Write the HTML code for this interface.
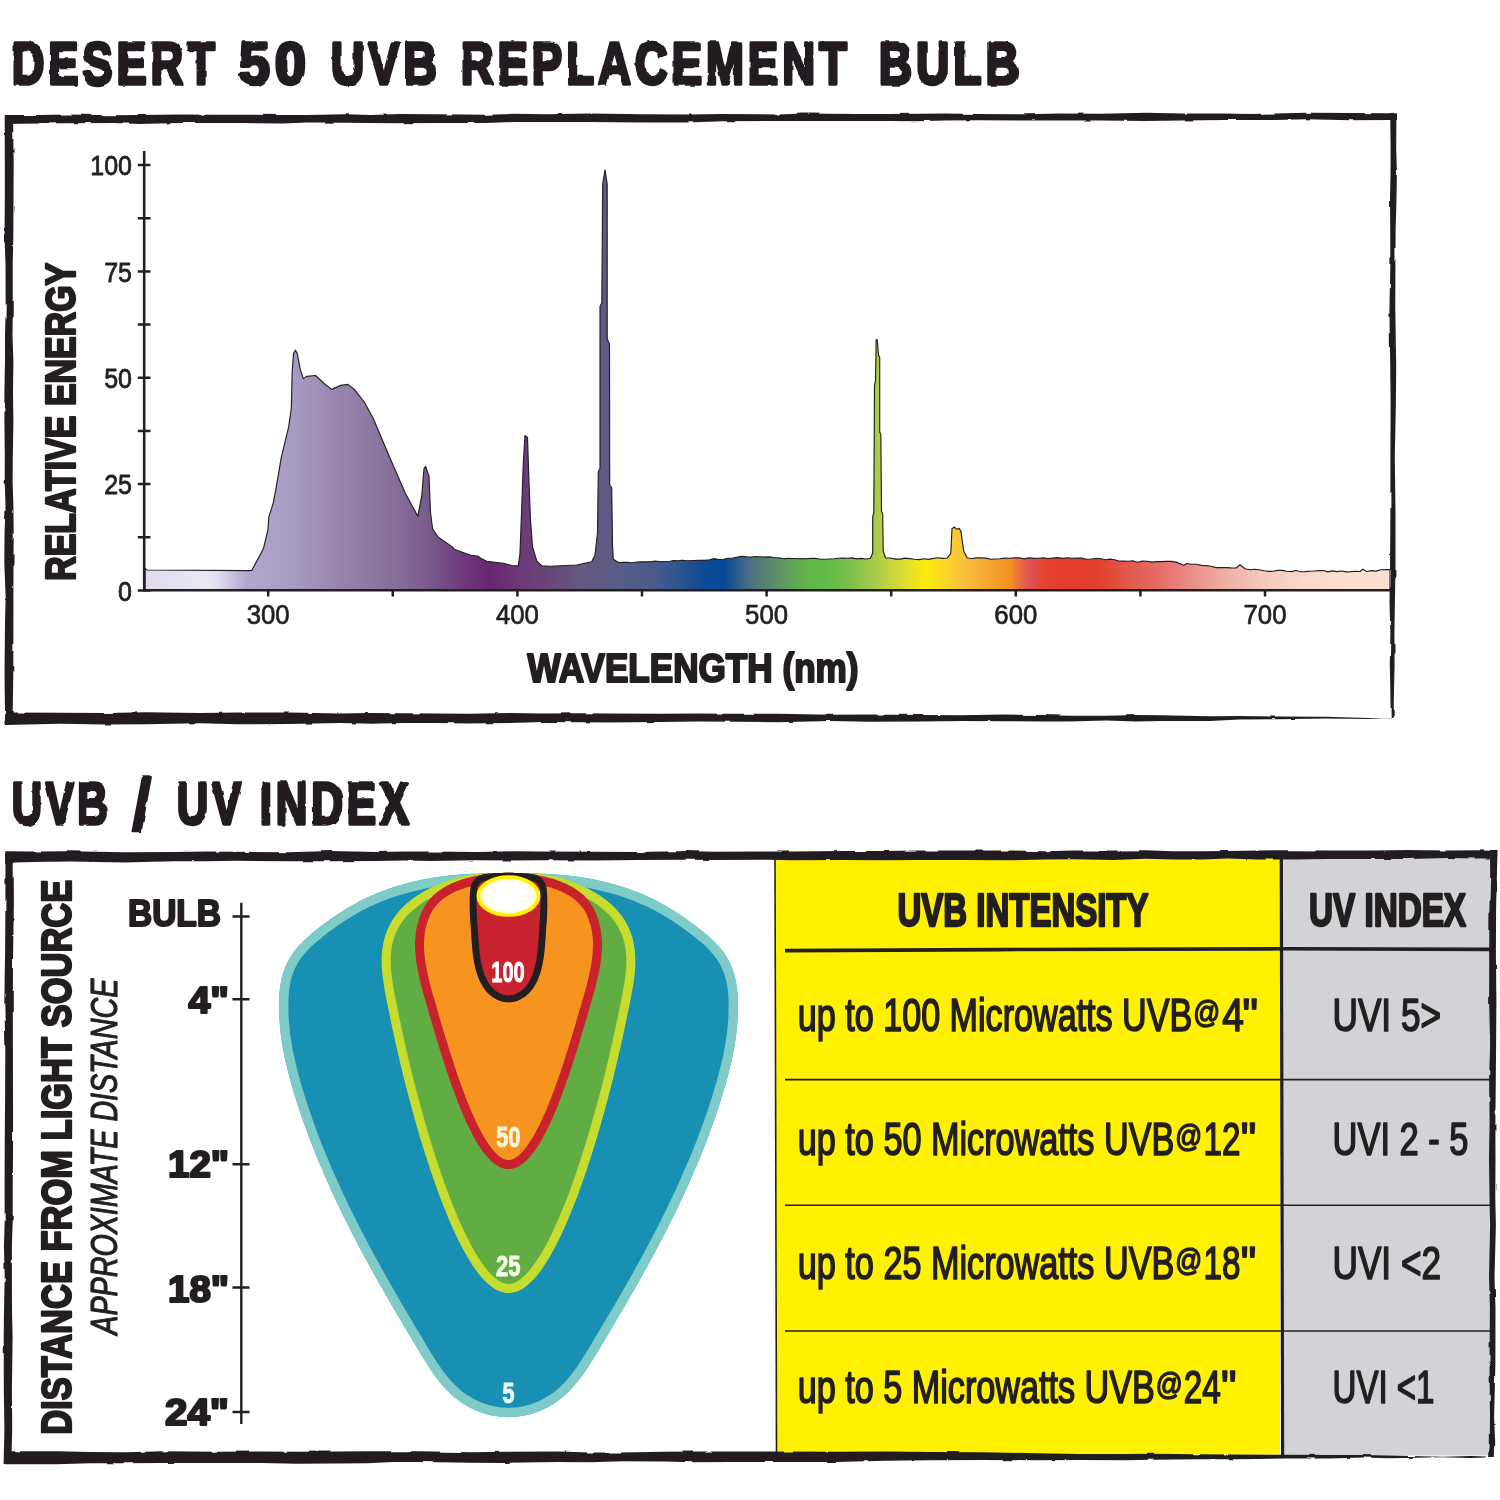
<!DOCTYPE html>
<html lang="en"><head><meta charset="utf-8"><title>Desert 50 UVB Replacement Bulb</title>
<style>
html,body{margin:0;padding:0;background:#fff;}
body{width:1500px;height:1500px;overflow:hidden;}
svg{display:block;font-family:"Liberation Sans",sans-serif;}
</style></head><body>
<svg width="1500" height="1500" viewBox="0 0 1500 1500">
<defs>
<linearGradient id="sg" gradientUnits="userSpaceOnUse" x1="144" y1="0" x2="1390" y2="0"><stop offset="0.0013" stop-color="#dedaec"/><stop offset="0.0498" stop-color="#ebe8f4"/><stop offset="0.0586" stop-color="#e2def0"/><stop offset="0.0819" stop-color="#b3a7d0"/><stop offset="0.1204" stop-color="#a79bc4"/><stop offset="0.1541" stop-color="#9886ae"/><stop offset="0.1990" stop-color="#86709a"/><stop offset="0.2327" stop-color="#77568a"/><stop offset="0.2552" stop-color="#6e3a7c"/><stop offset="0.2777" stop-color="#692673"/><stop offset="0.3002" stop-color="#6c3877"/><stop offset="0.3178" stop-color="#6b4278"/><stop offset="0.3515" stop-color="#635880"/><stop offset="0.3740" stop-color="#5c5b86"/><stop offset="0.4077" stop-color="#4d5b8a"/><stop offset="0.4302" stop-color="#2d5391"/><stop offset="0.4526" stop-color="#084a99"/><stop offset="0.4663" stop-color="#0a4b97"/><stop offset="0.4864" stop-color="#4d6e83"/><stop offset="0.5088" stop-color="#5f9266"/><stop offset="0.5313" stop-color="#62b24a"/><stop offset="0.5425" stop-color="#5fba47"/><stop offset="0.5650" stop-color="#78bf4a"/><stop offset="0.5875" stop-color="#a8cb4a"/><stop offset="0.6100" stop-color="#dddc33"/><stop offset="0.6276" stop-color="#fdec0b"/><stop offset="0.6388" stop-color="#fbdc20"/><stop offset="0.6585" stop-color="#f8c03e"/><stop offset="0.6782" stop-color="#f5a42f"/><stop offset="0.6954" stop-color="#f3911f"/><stop offset="0.7030" stop-color="#ea6b3f"/><stop offset="0.7103" stop-color="#df5258"/><stop offset="0.7223" stop-color="#e3432f"/><stop offset="0.7424" stop-color="#e43d2b"/><stop offset="0.7669" stop-color="#e3402e"/><stop offset="0.7913" stop-color="#e35a4e"/><stop offset="0.8178" stop-color="#e6706b"/><stop offset="0.8435" stop-color="#ea908a"/><stop offset="0.8700" stop-color="#efb1a6"/><stop offset="0.8973" stop-color="#f5c9bc"/><stop offset="0.9318" stop-color="#fad8cb"/><stop offset="0.9591" stop-color="#fcddd0"/><stop offset="1.0000" stop-color="#fddfd2"/></linearGradient>
<radialGradient id="bulb" cx="0.5" cy="0.5" r="0.5"><stop offset="0" stop-color="#fff"/><stop offset="0.74" stop-color="#fff"/><stop offset="0.9" stop-color="#fffcc4"/><stop offset="1" stop-color="#fff45a"/></radialGradient>
<filter id="rough" x="-2%" y="-10%" width="104%" height="120%"><feTurbulence type="fractalNoise" baseFrequency="0.075" numOctaves="2" seed="4" result="n"/><feDisplacementMap in="SourceGraphic" in2="n" scale="2.8" xChannelSelector="R" yChannelSelector="G"/></filter>
<filter id="rough2" x="-1%" y="-1%" width="102%" height="102%"><feTurbulence type="fractalNoise" baseFrequency="0.05" numOctaves="2" seed="9" result="n"/><feDisplacementMap in="SourceGraphic" in2="n" scale="2.6" xChannelSelector="R" yChannelSelector="G"/></filter>
</defs>
<rect width="1500" height="1500" fill="#fff"/>

<g id="head1" filter="url(#rough)"><text x="11.7" y="84.3" font-size="58.5" font-weight="bold" letter-spacing="5.0" textLength="207.1" lengthAdjust="spacingAndGlyphs" fill="#231f20" stroke="#231f20" stroke-width="3.4" stroke-linejoin="round">DESERT</text><text x="238.7" y="84.3" font-size="58.5" font-weight="bold" letter-spacing="5.0" textLength="72.1" lengthAdjust="spacingAndGlyphs" fill="#231f20" stroke="#231f20" stroke-width="3.4" stroke-linejoin="round">50</text><text x="330.7" y="84.3" font-size="58.5" font-weight="bold" letter-spacing="5.0" textLength="110.1" lengthAdjust="spacingAndGlyphs" fill="#231f20" stroke="#231f20" stroke-width="3.4" stroke-linejoin="round">UVB</text><text x="460.7" y="84.3" font-size="58.5" font-weight="bold" letter-spacing="5.0" textLength="390.1" lengthAdjust="spacingAndGlyphs" fill="#231f20" stroke="#231f20" stroke-width="3.4" stroke-linejoin="round">REPLACEMENT</text><text x="878.7" y="84.3" font-size="58.5" font-weight="bold" letter-spacing="5.0" textLength="144.1" lengthAdjust="spacingAndGlyphs" fill="#231f20" stroke="#231f20" stroke-width="3.4" stroke-linejoin="round">BULB</text></g>
<g id="head2" filter="url(#rough)"><text x="11.7" y="824.3" font-size="58.5" font-weight="bold" letter-spacing="5.0" textLength="99.6" lengthAdjust="spacingAndGlyphs" fill="#231f20" stroke="#231f20" stroke-width="3.4" stroke-linejoin="round">UVB</text><text x="131.5" y="830.0" font-size="74" font-weight="bold" fill="#231f20" stroke="#231f20" stroke-width="1.5" stroke-linejoin="round">/</text><text x="176.7" y="824.3" font-size="58.5" font-weight="bold" letter-spacing="5.0" textLength="68.1" lengthAdjust="spacingAndGlyphs" fill="#231f20" stroke="#231f20" stroke-width="3.4" stroke-linejoin="round">UV</text><text x="259.7" y="824.3" font-size="58.5" font-weight="bold" letter-spacing="5.0" textLength="153.1" lengthAdjust="spacingAndGlyphs" fill="#231f20" stroke="#231f20" stroke-width="3.4" stroke-linejoin="round">INDEX</text></g>
<g id="box1" fill="#231f20" filter="url(#rough2)">
<path d="M5.0 115.1 L39.4 114.9 L68.2 114.6 L113.0 115.3 L139.3 115.1 L180.5 114.4 L216.2 114.8 L242.0 114.7 L282.3 115.1 L307.5 114.9 L345.4 114.2 L371.6 115.1 L398.5 113.9 L436.1 114.3 L486.5 114.7 L514.5 113.8 L545.6 114.2 L589.7 113.5 L644.1 114.3 L686.5 114.4 L723.2 114.1 L778.5 114.4 L803.9 113.6 L855.4 114.1 L888.7 113.9 L917.3 113.8 L945.1 113.6 L978.9 114.1 L1029.1 114.2 L1058.8 113.4 L1101.4 113.7 L1145.9 112.7 L1181.8 113.6 L1223.3 113.5 L1249.3 113.9 L1275.3 113.6 L1305.8 112.8 L1351.6 112.9 L1389.3 113.2 L1397.0 112.3 L1397.0 120.0 L1389.3 119.9 L1351.6 120.2 L1305.8 119.2 L1275.3 120.1 L1249.3 120.1 L1223.3 120.1 L1181.8 120.5 L1145.9 120.9 L1101.4 120.5 L1058.8 120.4 L1029.1 120.6 L978.9 120.2 L945.1 120.6 L917.3 121.2 L888.7 121.1 L855.4 120.9 L803.9 121.0 L778.5 121.0 L723.2 121.2 L686.5 122.4 L644.1 122.5 L589.7 121.9 L545.6 122.1 L514.5 122.0 L486.5 123.0 L436.1 123.1 L398.5 123.3 L371.6 122.9 L345.4 122.8 L307.5 122.4 L282.3 123.6 L242.0 123.1 L216.2 123.0 L180.5 122.9 L139.3 123.9 L113.0 123.0 L68.2 123.3 L39.4 123.4 L5.0 123.9Z"/>
<path d="M4.7 115.0 L4.8 164.5 L4.8 201.1 L4.5 237.9 L5.5 265.2 L5.7 309.5 L5.0 335.5 L5.0 361.6 L4.4 392.3 L4.4 421.5 L4.8 456.4 L4.7 482.1 L5.5 506.1 L4.5 534.9 L4.3 562.1 L5.6 597.8 L5.0 622.6 L4.5 674.6 L5.1 718.2 L4.3 724.0 L13.0 724.0 L12.6 718.2 L13.3 674.6 L13.4 622.6 L13.4 597.8 L13.5 562.1 L13.7 534.9 L13.4 506.1 L12.6 482.1 L12.8 456.4 L13.4 421.5 L13.0 392.3 L13.4 361.6 L12.5 335.5 L12.8 309.5 L12.7 265.2 L13.3 237.9 L13.5 201.1 L13.7 164.5 L13.0 115.0Z"/>
<path d="M1390.2 113.0 L1390.6 148.4 L1390.5 173.3 L1390.0 198.2 L1390.2 231.1 L1390.4 263.4 L1389.4 309.6 L1390.2 364.2 L1390.6 402.5 L1390.4 456.5 L1390.4 512.1 L1390.0 566.7 L1389.5 602.3 L1390.4 633.4 L1389.8 664.7 L1390.4 695.0 L1390.7 718.0 L1393.6 718.0 L1393.9 695.0 L1394.6 664.7 L1394.4 633.4 L1394.9 602.3 L1395.5 566.7 L1395.5 512.1 L1394.8 456.5 L1395.9 402.5 L1396.2 364.2 L1395.3 309.6 L1395.4 263.4 L1395.6 231.1 L1396.5 198.2 L1396.9 173.3 L1396.2 148.4 L1396.4 113.0Z"/>
<path d="M5.0 712.5 L60.1 712.7 L104.9 713.0 L145.7 712.2 L199.6 712.9 L237.5 712.5 L289.4 712.6 L339.8 713.4 L370.6 713.0 L402.6 713.2 L436.0 713.5 L467.7 713.7 L510.4 713.1 L542.7 713.4 L580.2 713.3 L608.4 713.4 L661.5 713.7 L696.8 713.4 L735.5 713.7 L778.1 713.8 L831.1 714.7 L868.5 714.5 L921.9 715.0 L961.9 715.3 L1003.0 714.5 L1043.7 715.1 L1068.3 715.8 L1106.4 715.8 L1136.3 715.1 L1160.4 715.3 L1210.0 716.2 L1239.5 716.0 L1278.6 716.6 L1325.8 716.8 L1367.6 718.0 L1392.0 718.4 L1392.0 718.2 L1367.6 719.1 L1325.8 718.5 L1278.6 719.2 L1239.5 719.4 L1210.0 720.9 L1160.4 721.1 L1136.3 721.6 L1106.4 720.6 L1068.3 721.4 L1043.7 721.6 L1003.0 721.2 L961.9 720.9 L921.9 721.5 L868.5 721.8 L831.1 721.1 L778.1 722.2 L735.5 721.7 L696.8 721.6 L661.5 721.9 L608.4 722.4 L580.2 722.3 L542.7 722.1 L510.4 723.1 L467.7 723.5 L436.0 722.9 L402.6 722.9 L370.6 723.8 L339.8 722.9 L289.4 724.1 L237.5 724.2 L199.6 723.3 L145.7 724.2 L104.9 724.4 L60.1 723.8 L5.0 725.1Z"/>
</g>
<g id="chart">
<path d="M145 590 L145.0 568.5 147.0 570.0 251.7 570.6 263.4 548.7 267.9 529.8 268.8 517.2 273.3 502.8 276.0 488.4 281.4 456.9 288.6 427.2 291.3 409.2 292.2 371.4 293.6 353.4 295.4 350.2 297.2 353.4 300.3 369.6 303.4 378.6 306.6 376.4 315.6 375.5 324.6 384.0 331.8 389.4 340.8 385.4 348.0 384.4 355.2 390.3 364.2 402.0 373.2 418.2 382.2 439.8 393.0 465.0 405.6 493.8 417.8 516.3 421.8 495.6 424.0 468.6 425.7 466.4 428.1 474.0 429.0 475.8 430.4 511.8 432.6 528.9 438.0 537.0 452.4 546.9 454.2 549.2 470.0 555.0 478.5 556.4 481.2 558.6 486.7 561.3 503.3 563.3 511.7 565.5 518.3 565.8 520.0 553.3 522.0 500.0 523.3 463.3 525.0 435.5 527.5 437.5 528.7 473.3 530.3 516.7 532.5 546.7 536.7 560.8 541.7 565.8 550.0 566.2 576.7 565.0 591.7 561.7 595.0 555.0 597.5 533.3 598.3 471.7 600.0 468.3 600.0 306.6 601.8 303.0 602.7 184.2 605.0 169.8 607.2 184.0 607.2 339.0 609.5 344.0 609.7 485.0 611.7 487.5 612.5 545.0 613.3 559.2 618.3 562.5 622.9 562.3 627.5 562.3 632.1 562.8 636.7 562.0 641.2 561.8 645.8 561.8 650.3 561.8 654.9 561.1 659.4 561.5 664.0 561.5 668.5 561.7 673.1 560.5 677.6 560.7 682.2 560.3 686.7 560.8 700.0 560.3 704.7 560.4 709.3 559.9 714.0 558.6 718.7 559.6 723.4 559.2 728.0 558.4 732.7 558.0 737.4 557.0 742.0 556.4 746.7 556.8 751.3 557.0 756.0 556.5 760.6 556.8 765.2 557.1 769.9 556.9 774.5 557.8 779.1 557.9 783.7 558.7 788.4 558.4 793.0 558.5 797.5 558.7 802.1 558.5 806.6 558.7 811.2 558.4 815.7 558.2 820.3 559.2 824.8 559.2 829.4 559.0 833.9 558.8 838.5 558.2 843.0 558.1 847.6 558.2 852.1 557.9 856.7 558.9 861.2 558.4 865.8 559.0 870.3 558.5 872.7 553.3 872.7 516.0 873.8 513.7 874.5 385.3 875.5 380.7 876.2 339.8 877.3 339.8 878.5 355.0 879.7 357.3 879.7 432.0 880.8 434.3 881.5 511.3 882.7 513.7 883.2 551.0 885.5 558.0 890.4 558.0 895.2 559.1 900.1 559.1 905.0 558.1 909.8 558.6 914.7 559.2 919.4 559.6 924.0 558.8 928.7 559.4 933.3 558.4 938.0 557.7 942.6 558.4 947.3 558.0 950.8 553.3 952.0 528.8 954.3 527.0 956.7 529.3 959.0 528.4 960.9 531.2 963.7 551.0 967.2 558.0 971.9 558.5 976.6 557.9 981.3 557.7 985.9 558.1 990.6 559.2 995.3 559.0 1000.0 558.7 1004.8 558.1 1009.6 558.2 1014.5 557.9 1019.3 557.8 1024.1 558.9 1028.9 557.9 1033.7 558.4 1038.5 558.2 1043.4 557.7 1048.2 558.5 1053.0 558.1 1057.8 557.6 1062.6 558.4 1067.4 557.7 1072.2 558.2 1077.0 558.0 1081.8 558.1 1086.6 559.2 1091.4 559.0 1096.2 558.3 1101.0 558.7 1105.5 559.7 1110.0 559.1 1114.5 559.8 1119.0 561.0 1123.5 561.1 1128.0 561.3 1132.8 560.8 1137.6 562.2 1142.4 561.1 1147.2 561.3 1152.0 562.1 1156.8 561.5 1161.6 561.6 1166.4 561.3 1171.2 561.4 1176.0 562.1 1184.0 565.3 1186.7 563.5 1191.6 564.2 1196.5 564.3 1201.4 565.4 1206.3 565.6 1211.2 566.3 1216.1 567.6 1221.0 567.5 1226.0 567.6 1231.0 567.9 1236.0 568.0 1240.0 564.8 1245.0 568.8 1249.8 569.8 1254.5 569.3 1259.2 569.7 1264.0 570.7 1268.6 571.4 1273.1 571.3 1277.7 570.4 1282.3 570.4 1286.9 571.2 1291.4 571.6 1296.0 570.5 1300.6 571.7 1305.1 571.6 1309.7 571.2 1314.3 571.0 1318.9 570.6 1323.4 570.5 1328.0 571.9 1332.6 570.9 1337.1 571.6 1341.7 571.0 1346.3 571.9 1350.9 571.6 1355.4 571.2 1360.0 571.5 1362.7 569.3 1366.7 571.5 1371.4 570.6 1376.0 571.1 1380.7 569.7 1385.3 569.6 1390.0 569.6 L1390 590Z" fill="url(#sg)" stroke="#231f20" stroke-width="1.15" stroke-linejoin="round"/>
<path d="M144.2 151V591.4M143 590.2H1390" stroke="#231f20" stroke-width="2.6" fill="none"/>
<path d="M137.8 165.0H150.5M137.8 218.2H150.5M137.8 271.4H150.5M137.8 324.5H150.5M137.8 377.7H150.5M137.8 430.9H150.5M137.8 484.1H150.5M137.8 537.3H150.5M137.8 590.4H150.5M268.2 590V596.5M392.8 590V596.5M517.4 590V596.5M642.0 590V596.5M766.6 590V596.5M891.2 590V596.5M1015.8 590V596.5M1140.4 590V596.5M1265.0 590V596.5" stroke="#231f20" stroke-width="2.5" fill="none"/>
<text x="132.0" y="175.1" font-size="28.3" font-weight="normal" text-anchor="end" fill="#231f20" textLength="41.7" lengthAdjust="spacingAndGlyphs" stroke="#231f20" stroke-width="0.8" stroke-linejoin="round">100</text>
<text x="132.0" y="281.5" font-size="28.3" font-weight="normal" text-anchor="end" fill="#231f20" textLength="27.8" lengthAdjust="spacingAndGlyphs" stroke="#231f20" stroke-width="0.8" stroke-linejoin="round">75</text>
<text x="132.0" y="387.8" font-size="28.3" font-weight="normal" text-anchor="end" fill="#231f20" textLength="27.8" lengthAdjust="spacingAndGlyphs" stroke="#231f20" stroke-width="0.8" stroke-linejoin="round">50</text>
<text x="132.0" y="494.2" font-size="28.3" font-weight="normal" text-anchor="end" fill="#231f20" textLength="27.8" lengthAdjust="spacingAndGlyphs" stroke="#231f20" stroke-width="0.8" stroke-linejoin="round">25</text>
<text x="132.0" y="600.5" font-size="28.3" font-weight="normal" text-anchor="end" fill="#231f20" textLength="13.9" lengthAdjust="spacingAndGlyphs" stroke="#231f20" stroke-width="0.8" stroke-linejoin="round">0</text>
<text x="268.2" y="623.6" font-size="28.0" font-weight="normal" text-anchor="middle" fill="#231f20" textLength="43.0" lengthAdjust="spacingAndGlyphs" stroke="#231f20" stroke-width="0.7" stroke-linejoin="round">300</text>
<text x="517.4" y="623.6" font-size="28.0" font-weight="normal" text-anchor="middle" fill="#231f20" textLength="43.0" lengthAdjust="spacingAndGlyphs" stroke="#231f20" stroke-width="0.7" stroke-linejoin="round">400</text>
<text x="766.6" y="623.6" font-size="28.0" font-weight="normal" text-anchor="middle" fill="#231f20" textLength="43.0" lengthAdjust="spacingAndGlyphs" stroke="#231f20" stroke-width="0.7" stroke-linejoin="round">500</text>
<text x="1015.8" y="623.6" font-size="28.0" font-weight="normal" text-anchor="middle" fill="#231f20" textLength="43.0" lengthAdjust="spacingAndGlyphs" stroke="#231f20" stroke-width="0.7" stroke-linejoin="round">600</text>
<text x="1265.0" y="623.6" font-size="28.0" font-weight="normal" text-anchor="middle" fill="#231f20" textLength="43.0" lengthAdjust="spacingAndGlyphs" stroke="#231f20" stroke-width="0.7" stroke-linejoin="round">700</text>
<text x="693.0" y="682.0" font-size="40.0" font-weight="bold" text-anchor="middle" fill="#231f20" textLength="331.0" lengthAdjust="spacingAndGlyphs" stroke="#231f20" stroke-width="2.2" stroke-linejoin="round">WAVELENGTH (nm)</text>
<g transform="translate(74.5 421.8) rotate(-90)"><text x="0.0" y="0.0" font-size="42.5" font-weight="bold" text-anchor="middle" fill="#231f20" textLength="318.0" lengthAdjust="spacingAndGlyphs" stroke="#231f20" stroke-width="2.3" stroke-linejoin="round">RELATIVE ENERGY</text></g>
</g>
<g id="table">
<rect x="776" y="858" width="504" height="596.5" fill="#fff100"/>
<rect x="1281" y="855" width="210" height="600.5" fill="#d1d3d6"/>
<path d="M775 859L776.5 1453" stroke="#231f20" stroke-width="1.6" fill="none"/>
<path d="M1281.3 856L1282.6 1456" stroke="#231f20" stroke-width="3.2" fill="none"/>
<path d="M785 950.6L1000 949.6L1281 948.8L1490 949.4" stroke="#231f20" stroke-width="3.6" fill="none"/>
<path d="M785 1079.6H1490M785 1205.3H1490M785 1331H1490" stroke="#231f20" stroke-width="1.6" fill="none"/>
<text x="1023.0" y="925.5" font-size="45.5" font-weight="bold" text-anchor="middle" fill="#231f20" textLength="251.0" lengthAdjust="spacingAndGlyphs" stroke="#231f20" stroke-width="2.4" stroke-linejoin="round">UVB INTENSITY</text>
<text x="1387.5" y="925.5" font-size="45.5" font-weight="bold" text-anchor="middle" fill="#231f20" textLength="157.0" lengthAdjust="spacingAndGlyphs" stroke="#231f20" stroke-width="2.4" stroke-linejoin="round">UV INDEX</text>
<text x="797.8" y="1030.5" font-size="46.0" font-weight="normal" text-anchor="start" fill="#231f20" textLength="394.5" lengthAdjust="spacingAndGlyphs" stroke="#231f20" stroke-width="1.7" stroke-linejoin="round">up to 100 Microwatts UVB</text>
<text x="1193.3" y="1022.5" font-size="30.5" font-weight="normal" text-anchor="start" fill="#231f20" textLength="26.9" lengthAdjust="spacingAndGlyphs" stroke="#231f20" stroke-width="1.5" stroke-linejoin="round">@</text>
<text x="1222.2" y="1030.5" font-size="46.0" font-weight="normal" text-anchor="start" fill="#231f20" textLength="21.6" lengthAdjust="spacingAndGlyphs" stroke="#231f20" stroke-width="1.7" stroke-linejoin="round">4</text>
<text x="1258.1" y="1030.5" font-size="46.0" font-weight="normal" text-anchor="end" fill="#231f20" textLength="15.5" lengthAdjust="spacingAndGlyphs" stroke="#231f20" stroke-width="1.7" stroke-linejoin="round">"</text>
<text x="1332.5" y="1030.5" font-size="46.0" font-weight="normal" text-anchor="start" fill="#231f20" textLength="108.5" lengthAdjust="spacingAndGlyphs" stroke="#231f20" stroke-width="1.7" stroke-linejoin="round">UVI 5&gt;</text>
<text x="797.8" y="1154.5" font-size="46.0" font-weight="normal" text-anchor="start" fill="#231f20" textLength="376.5" lengthAdjust="spacingAndGlyphs" stroke="#231f20" stroke-width="1.7" stroke-linejoin="round">up to 50 Microwatts UVB</text>
<text x="1175.3" y="1146.5" font-size="30.5" font-weight="normal" text-anchor="start" fill="#231f20" textLength="26.9" lengthAdjust="spacingAndGlyphs" stroke="#231f20" stroke-width="1.5" stroke-linejoin="round">@</text>
<text x="1203.6" y="1154.5" font-size="46.0" font-weight="normal" text-anchor="start" fill="#231f20" textLength="37.0" lengthAdjust="spacingAndGlyphs" stroke="#231f20" stroke-width="1.7" stroke-linejoin="round">12</text>
<text x="1256.3" y="1154.5" font-size="46.0" font-weight="normal" text-anchor="end" fill="#231f20" textLength="15.5" lengthAdjust="spacingAndGlyphs" stroke="#231f20" stroke-width="1.7" stroke-linejoin="round">"</text>
<text x="1332.5" y="1154.5" font-size="46.0" font-weight="normal" text-anchor="start" fill="#231f20" textLength="136.0" lengthAdjust="spacingAndGlyphs" stroke="#231f20" stroke-width="1.7" stroke-linejoin="round">UVI 2 - 5</text>
<text x="797.8" y="1278.7" font-size="46.0" font-weight="normal" text-anchor="start" fill="#231f20" textLength="376.5" lengthAdjust="spacingAndGlyphs" stroke="#231f20" stroke-width="1.7" stroke-linejoin="round">up to 25 Microwatts UVB</text>
<text x="1175.3" y="1270.7" font-size="30.5" font-weight="normal" text-anchor="start" fill="#231f20" textLength="26.9" lengthAdjust="spacingAndGlyphs" stroke="#231f20" stroke-width="1.5" stroke-linejoin="round">@</text>
<text x="1203.6" y="1278.7" font-size="46.0" font-weight="normal" text-anchor="start" fill="#231f20" textLength="37.0" lengthAdjust="spacingAndGlyphs" stroke="#231f20" stroke-width="1.7" stroke-linejoin="round">18</text>
<text x="1256.3" y="1278.7" font-size="46.0" font-weight="normal" text-anchor="end" fill="#231f20" textLength="15.5" lengthAdjust="spacingAndGlyphs" stroke="#231f20" stroke-width="1.7" stroke-linejoin="round">"</text>
<text x="1332.5" y="1278.7" font-size="46.0" font-weight="normal" text-anchor="start" fill="#231f20" textLength="108.5" lengthAdjust="spacingAndGlyphs" stroke="#231f20" stroke-width="1.7" stroke-linejoin="round">UVI &lt;2</text>
<text x="797.8" y="1403.3" font-size="46.0" font-weight="normal" text-anchor="start" fill="#231f20" textLength="357.0" lengthAdjust="spacingAndGlyphs" stroke="#231f20" stroke-width="1.7" stroke-linejoin="round">up to 5 Microwatts UVB</text>
<text x="1155.8" y="1395.3" font-size="30.5" font-weight="normal" text-anchor="start" fill="#231f20" textLength="26.9" lengthAdjust="spacingAndGlyphs" stroke="#231f20" stroke-width="1.5" stroke-linejoin="round">@</text>
<text x="1183.7" y="1403.3" font-size="46.0" font-weight="normal" text-anchor="start" fill="#231f20" textLength="37.1" lengthAdjust="spacingAndGlyphs" stroke="#231f20" stroke-width="1.7" stroke-linejoin="round">24</text>
<text x="1236.6" y="1403.3" font-size="46.0" font-weight="normal" text-anchor="end" fill="#231f20" textLength="15.5" lengthAdjust="spacingAndGlyphs" stroke="#231f20" stroke-width="1.7" stroke-linejoin="round">"</text>
<text x="1332.5" y="1403.3" font-size="46.0" font-weight="normal" text-anchor="start" fill="#231f20" textLength="102.0" lengthAdjust="spacingAndGlyphs" stroke="#231f20" stroke-width="1.7" stroke-linejoin="round">UVI &lt;1</text>
</g>
<g id="cone">
<clipPath id="cb"><path d="M508.5 872.8 L498.1 872.9 L487.8 873.1 L477.9 873.4 L468.3 873.9 L459.2 874.5 L450.6 875.3 L442.5 876.2 L434.9 877.2 L427.9 878.4 L421.2 879.7 L414.8 881.2 L408.5 882.8 L402.2 884.5 L396.1 886.3 L390.0 888.3 L384.1 890.4 L378.3 892.6 L372.6 895.0 L367.0 897.5 L361.6 900.1 L356.4 902.9 L351.2 905.8 L346.2 908.8 L341.2 911.9 L336.3 915.1 L331.4 918.5 L326.5 921.9 L321.7 925.5 L316.9 929.2 L312.2 933.0 L307.7 936.9 L303.4 940.9 L299.4 945.1 L295.7 949.3 L292.5 953.6 L289.7 958.0 L287.2 962.6 L285.1 967.2 L283.4 971.9 L282.0 976.7 L280.9 981.5 L280.1 986.5 L279.5 991.5 L279.1 996.7 L278.9 1001.9 L278.9 1007.1 L279.0 1012.5 L279.2 1017.9 L279.6 1023.3 L280.1 1028.9 L280.7 1034.5 L281.5 1040.1 L282.4 1045.8 L283.4 1051.6 L284.6 1057.4 L285.9 1063.2 L287.3 1069.1 L288.8 1075.0 L290.4 1081.0 L292.1 1087.0 L293.9 1093.0 L295.7 1099.1 L297.7 1105.2 L299.7 1111.3 L301.8 1117.4 L303.9 1123.5 L306.1 1129.6 L308.4 1135.8 L310.7 1141.9 L313.1 1148.1 L315.6 1154.2 L318.1 1160.4 L320.7 1166.5 L323.3 1172.6 L326.0 1178.7 L328.7 1184.8 L331.4 1190.9 L334.2 1197.0 L337.1 1203.0 L339.9 1209.0 L342.8 1215.0 L345.8 1220.9 L348.7 1226.8 L351.7 1232.6 L354.7 1238.4 L357.7 1244.2 L360.7 1249.9 L363.7 1255.5 L366.7 1261.1 L369.8 1266.7 L372.8 1272.1 L375.8 1277.5 L378.8 1282.9 L381.8 1288.1 L384.8 1293.3 L387.7 1298.5 L390.6 1303.5 L393.5 1308.5 L396.4 1313.3 L399.2 1318.1 L402.0 1322.8 L404.7 1327.4 L407.4 1332.0 L410.1 1336.4 L412.7 1340.7 L415.2 1344.9 L417.6 1349.1 L420.0 1353.1 L422.4 1357.0 L424.8 1360.8 L427.1 1364.5 L429.4 1368.1 L431.8 1371.5 L434.1 1374.9 L436.5 1378.1 L439.0 1381.2 L441.4 1384.2 L443.9 1387.1 L446.5 1389.9 L449.1 1392.5 L451.8 1395.0 L454.5 1397.4 L457.3 1399.6 L460.2 1401.7 L463.1 1403.7 L466.1 1405.5 L469.1 1407.2 L472.2 1408.8 L475.3 1410.3 L478.5 1411.6 L481.7 1412.8 L485.0 1413.8 L488.3 1414.7 L491.6 1415.5 L494.9 1416.1 L498.3 1416.6 L501.7 1416.9 L505.1 1417.1 L508.5 1417.2 L511.9 1417.1 L515.3 1416.9 L518.7 1416.6 L522.1 1416.1 L525.4 1415.5 L528.7 1414.7 L532.0 1413.8 L535.3 1412.8 L538.5 1411.6 L541.7 1410.3 L544.8 1408.8 L547.9 1407.2 L550.9 1405.5 L553.9 1403.7 L556.8 1401.7 L559.7 1399.6 L562.5 1397.4 L565.2 1395.0 L567.9 1392.5 L570.5 1389.9 L573.1 1387.1 L575.6 1384.2 L578.0 1381.2 L580.5 1378.1 L582.9 1374.9 L585.2 1371.5 L587.6 1368.1 L589.9 1364.5 L592.2 1360.8 L594.6 1357.0 L597.0 1353.1 L599.4 1349.1 L601.8 1344.9 L604.3 1340.7 L606.9 1336.4 L609.6 1332.0 L612.3 1327.4 L615.0 1322.8 L617.8 1318.1 L620.6 1313.3 L623.5 1308.5 L626.4 1303.5 L629.3 1298.5 L632.2 1293.3 L635.2 1288.1 L638.2 1282.9 L641.2 1277.5 L644.2 1272.1 L647.2 1266.7 L650.3 1261.1 L653.3 1255.5 L656.3 1249.9 L659.3 1244.2 L662.3 1238.4 L665.3 1232.6 L668.3 1226.8 L671.2 1220.9 L674.2 1215.0 L677.1 1209.0 L679.9 1203.0 L682.8 1197.0 L685.6 1190.9 L688.3 1184.8 L691.0 1178.7 L693.7 1172.6 L696.3 1166.5 L698.9 1160.4 L701.4 1154.2 L703.9 1148.1 L706.3 1141.9 L708.6 1135.8 L710.9 1129.6 L713.1 1123.5 L715.2 1117.4 L717.3 1111.3 L719.3 1105.2 L721.3 1099.1 L723.1 1093.0 L724.9 1087.0 L726.6 1081.0 L728.2 1075.0 L729.7 1069.1 L731.1 1063.2 L732.4 1057.4 L733.6 1051.6 L734.6 1045.8 L735.5 1040.1 L736.3 1034.5 L736.9 1028.9 L737.4 1023.3 L737.8 1017.9 L738.0 1012.5 L738.1 1007.1 L738.1 1001.9 L737.9 996.7 L737.5 991.5 L736.9 986.5 L736.1 981.5 L735.0 976.7 L733.6 971.9 L731.9 967.2 L729.8 962.6 L727.3 958.0 L724.5 953.6 L721.3 949.3 L717.6 945.1 L713.6 940.9 L709.3 936.9 L704.8 933.0 L700.1 929.2 L695.3 925.5 L690.5 921.9 L685.6 918.5 L680.7 915.1 L675.8 911.9 L670.8 908.8 L665.8 905.8 L660.6 902.9 L655.4 900.1 L650.0 897.5 L644.4 895.0 L638.7 892.6 L632.9 890.4 L627.0 888.3 L620.9 886.3 L614.8 884.5 L608.5 882.8 L602.2 881.2 L595.8 879.7 L589.1 878.4 L582.1 877.2 L574.5 876.2 L566.4 875.3 L557.8 874.5 L548.7 873.9 L539.1 873.4 L529.2 873.1 L518.9 872.9Z"/></clipPath><path d="M508.5 872.8 L498.1 872.9 L487.8 873.1 L477.9 873.4 L468.3 873.9 L459.2 874.5 L450.6 875.3 L442.5 876.2 L434.9 877.2 L427.9 878.4 L421.2 879.7 L414.8 881.2 L408.5 882.8 L402.2 884.5 L396.1 886.3 L390.0 888.3 L384.1 890.4 L378.3 892.6 L372.6 895.0 L367.0 897.5 L361.6 900.1 L356.4 902.9 L351.2 905.8 L346.2 908.8 L341.2 911.9 L336.3 915.1 L331.4 918.5 L326.5 921.9 L321.7 925.5 L316.9 929.2 L312.2 933.0 L307.7 936.9 L303.4 940.9 L299.4 945.1 L295.7 949.3 L292.5 953.6 L289.7 958.0 L287.2 962.6 L285.1 967.2 L283.4 971.9 L282.0 976.7 L280.9 981.5 L280.1 986.5 L279.5 991.5 L279.1 996.7 L278.9 1001.9 L278.9 1007.1 L279.0 1012.5 L279.2 1017.9 L279.6 1023.3 L280.1 1028.9 L280.7 1034.5 L281.5 1040.1 L282.4 1045.8 L283.4 1051.6 L284.6 1057.4 L285.9 1063.2 L287.3 1069.1 L288.8 1075.0 L290.4 1081.0 L292.1 1087.0 L293.9 1093.0 L295.7 1099.1 L297.7 1105.2 L299.7 1111.3 L301.8 1117.4 L303.9 1123.5 L306.1 1129.6 L308.4 1135.8 L310.7 1141.9 L313.1 1148.1 L315.6 1154.2 L318.1 1160.4 L320.7 1166.5 L323.3 1172.6 L326.0 1178.7 L328.7 1184.8 L331.4 1190.9 L334.2 1197.0 L337.1 1203.0 L339.9 1209.0 L342.8 1215.0 L345.8 1220.9 L348.7 1226.8 L351.7 1232.6 L354.7 1238.4 L357.7 1244.2 L360.7 1249.9 L363.7 1255.5 L366.7 1261.1 L369.8 1266.7 L372.8 1272.1 L375.8 1277.5 L378.8 1282.9 L381.8 1288.1 L384.8 1293.3 L387.7 1298.5 L390.6 1303.5 L393.5 1308.5 L396.4 1313.3 L399.2 1318.1 L402.0 1322.8 L404.7 1327.4 L407.4 1332.0 L410.1 1336.4 L412.7 1340.7 L415.2 1344.9 L417.6 1349.1 L420.0 1353.1 L422.4 1357.0 L424.8 1360.8 L427.1 1364.5 L429.4 1368.1 L431.8 1371.5 L434.1 1374.9 L436.5 1378.1 L439.0 1381.2 L441.4 1384.2 L443.9 1387.1 L446.5 1389.9 L449.1 1392.5 L451.8 1395.0 L454.5 1397.4 L457.3 1399.6 L460.2 1401.7 L463.1 1403.7 L466.1 1405.5 L469.1 1407.2 L472.2 1408.8 L475.3 1410.3 L478.5 1411.6 L481.7 1412.8 L485.0 1413.8 L488.3 1414.7 L491.6 1415.5 L494.9 1416.1 L498.3 1416.6 L501.7 1416.9 L505.1 1417.1 L508.5 1417.2 L511.9 1417.1 L515.3 1416.9 L518.7 1416.6 L522.1 1416.1 L525.4 1415.5 L528.7 1414.7 L532.0 1413.8 L535.3 1412.8 L538.5 1411.6 L541.7 1410.3 L544.8 1408.8 L547.9 1407.2 L550.9 1405.5 L553.9 1403.7 L556.8 1401.7 L559.7 1399.6 L562.5 1397.4 L565.2 1395.0 L567.9 1392.5 L570.5 1389.9 L573.1 1387.1 L575.6 1384.2 L578.0 1381.2 L580.5 1378.1 L582.9 1374.9 L585.2 1371.5 L587.6 1368.1 L589.9 1364.5 L592.2 1360.8 L594.6 1357.0 L597.0 1353.1 L599.4 1349.1 L601.8 1344.9 L604.3 1340.7 L606.9 1336.4 L609.6 1332.0 L612.3 1327.4 L615.0 1322.8 L617.8 1318.1 L620.6 1313.3 L623.5 1308.5 L626.4 1303.5 L629.3 1298.5 L632.2 1293.3 L635.2 1288.1 L638.2 1282.9 L641.2 1277.5 L644.2 1272.1 L647.2 1266.7 L650.3 1261.1 L653.3 1255.5 L656.3 1249.9 L659.3 1244.2 L662.3 1238.4 L665.3 1232.6 L668.3 1226.8 L671.2 1220.9 L674.2 1215.0 L677.1 1209.0 L679.9 1203.0 L682.8 1197.0 L685.6 1190.9 L688.3 1184.8 L691.0 1178.7 L693.7 1172.6 L696.3 1166.5 L698.9 1160.4 L701.4 1154.2 L703.9 1148.1 L706.3 1141.9 L708.6 1135.8 L710.9 1129.6 L713.1 1123.5 L715.2 1117.4 L717.3 1111.3 L719.3 1105.2 L721.3 1099.1 L723.1 1093.0 L724.9 1087.0 L726.6 1081.0 L728.2 1075.0 L729.7 1069.1 L731.1 1063.2 L732.4 1057.4 L733.6 1051.6 L734.6 1045.8 L735.5 1040.1 L736.3 1034.5 L736.9 1028.9 L737.4 1023.3 L737.8 1017.9 L738.0 1012.5 L738.1 1007.1 L738.1 1001.9 L737.9 996.7 L737.5 991.5 L736.9 986.5 L736.1 981.5 L735.0 976.7 L733.6 971.9 L731.9 967.2 L729.8 962.6 L727.3 958.0 L724.5 953.6 L721.3 949.3 L717.6 945.1 L713.6 940.9 L709.3 936.9 L704.8 933.0 L700.1 929.2 L695.3 925.5 L690.5 921.9 L685.6 918.5 L680.7 915.1 L675.8 911.9 L670.8 908.8 L665.8 905.8 L660.6 902.9 L655.4 900.1 L650.0 897.5 L644.4 895.0 L638.7 892.6 L632.9 890.4 L627.0 888.3 L620.9 886.3 L614.8 884.5 L608.5 882.8 L602.2 881.2 L595.8 879.7 L589.1 878.4 L582.1 877.2 L574.5 876.2 L566.4 875.3 L557.8 874.5 L548.7 873.9 L539.1 873.4 L529.2 873.1 L518.9 872.9Z" fill="#1890b4" stroke="#7ecbc8" stroke-width="19.0" clip-path="url(#cb)"/>
<clipPath id="cg"><path d="M508.5 872.8 L502.0 872.9 L495.5 873.0 L489.2 873.3 L483.3 873.7 L477.6 874.1 L472.4 874.7 L467.6 875.4 L463.2 876.2 L459.2 877.1 L455.5 878.1 L451.9 879.3 L448.3 880.5 L444.6 881.8 L440.9 883.2 L437.3 884.8 L433.7 886.4 L430.1 888.1 L426.6 889.9 L423.1 891.9 L419.8 893.9 L416.5 896.0 L413.3 898.2 L410.3 900.6 L407.4 903.0 L404.6 905.5 L402.0 908.0 L399.5 910.7 L397.2 913.5 L395.0 916.3 L393.0 919.3 L391.2 922.3 L389.5 925.4 L388.0 928.6 L386.6 931.8 L385.4 935.2 L384.4 938.6 L383.6 942.1 L382.9 945.6 L382.4 949.3 L382.0 953.0 L381.7 956.7 L381.7 960.6 L381.7 964.5 L381.9 968.4 L382.2 972.4 L382.7 976.5 L383.2 980.6 L383.8 984.8 L384.5 989.0 L385.3 993.3 L386.1 997.6 L387.0 1002.0 L387.9 1006.4 L388.8 1010.8 L389.7 1015.3 L390.6 1019.8 L391.6 1024.3 L392.5 1028.9 L393.5 1033.5 L394.5 1038.1 L395.6 1042.8 L396.6 1047.5 L397.7 1052.1 L398.8 1056.9 L399.9 1061.6 L401.0 1066.3 L402.2 1071.0 L403.3 1075.8 L404.5 1080.5 L405.7 1085.3 L406.9 1090.0 L408.2 1094.8 L409.4 1099.5 L410.7 1104.2 L412.0 1108.9 L413.3 1113.7 L414.6 1118.3 L415.9 1123.0 L417.2 1127.7 L418.6 1132.3 L419.9 1136.9 L421.3 1141.5 L422.7 1146.0 L424.1 1150.5 L425.5 1155.0 L426.9 1159.4 L428.4 1163.8 L429.8 1168.2 L431.3 1172.5 L432.7 1176.8 L434.2 1181.0 L435.7 1185.2 L437.1 1189.3 L438.6 1193.4 L440.1 1197.4 L441.6 1201.3 L443.2 1205.2 L444.7 1209.1 L446.2 1212.8 L447.7 1216.5 L449.3 1220.2 L450.8 1223.7 L452.3 1227.2 L453.9 1230.6 L455.4 1234.0 L457.0 1237.2 L458.5 1240.4 L460.1 1243.5 L461.6 1246.5 L463.2 1249.5 L464.8 1252.3 L466.3 1255.1 L467.9 1257.8 L469.4 1260.3 L471.0 1262.8 L472.6 1265.2 L474.1 1267.6 L475.7 1269.8 L477.3 1271.9 L478.8 1273.9 L480.4 1275.9 L482.0 1277.7 L483.5 1279.4 L485.1 1281.0 L486.7 1282.6 L488.2 1284.0 L489.8 1285.3 L491.3 1286.5 L492.9 1287.7 L494.5 1288.7 L496.0 1289.6 L497.6 1290.4 L499.1 1291.1 L500.7 1291.7 L502.3 1292.1 L503.8 1292.5 L505.4 1292.8 L506.9 1292.9 L508.5 1293.0 L510.1 1292.9 L511.6 1292.8 L513.2 1292.5 L514.7 1292.1 L516.3 1291.7 L517.9 1291.1 L519.4 1290.4 L521.0 1289.6 L522.5 1288.7 L524.1 1287.7 L525.7 1286.5 L527.2 1285.3 L528.8 1284.0 L530.3 1282.6 L531.9 1281.0 L533.5 1279.4 L535.0 1277.7 L536.6 1275.9 L538.2 1273.9 L539.7 1271.9 L541.3 1269.8 L542.9 1267.6 L544.4 1265.2 L546.0 1262.8 L547.6 1260.3 L549.1 1257.8 L550.7 1255.1 L552.2 1252.3 L553.8 1249.5 L555.4 1246.5 L556.9 1243.5 L558.5 1240.4 L560.0 1237.2 L561.6 1234.0 L563.1 1230.6 L564.7 1227.2 L566.2 1223.7 L567.7 1220.2 L569.3 1216.5 L570.8 1212.8 L572.3 1209.1 L573.8 1205.2 L575.4 1201.3 L576.9 1197.4 L578.4 1193.4 L579.9 1189.3 L581.3 1185.2 L582.8 1181.0 L584.3 1176.8 L585.7 1172.5 L587.2 1168.2 L588.6 1163.8 L590.1 1159.4 L591.5 1155.0 L592.9 1150.5 L594.3 1146.0 L595.7 1141.5 L597.1 1136.9 L598.4 1132.3 L599.8 1127.7 L601.1 1123.0 L602.4 1118.3 L603.7 1113.7 L605.0 1108.9 L606.3 1104.2 L607.6 1099.5 L608.8 1094.8 L610.1 1090.0 L611.3 1085.3 L612.5 1080.5 L613.7 1075.8 L614.8 1071.0 L616.0 1066.3 L617.1 1061.6 L618.2 1056.9 L619.3 1052.1 L620.4 1047.5 L621.4 1042.8 L622.5 1038.1 L623.5 1033.5 L624.5 1028.9 L625.4 1024.3 L626.4 1019.8 L627.3 1015.3 L628.2 1010.8 L629.1 1006.4 L630.0 1002.0 L630.9 997.6 L631.7 993.3 L632.5 989.0 L633.2 984.8 L633.8 980.6 L634.3 976.5 L634.8 972.4 L635.1 968.4 L635.3 964.5 L635.3 960.6 L635.3 956.7 L635.0 953.0 L634.6 949.3 L634.1 945.6 L633.4 942.1 L632.6 938.6 L631.6 935.2 L630.4 931.8 L629.0 928.6 L627.5 925.4 L625.8 922.3 L624.0 919.3 L622.0 916.3 L619.8 913.5 L617.5 910.7 L615.0 908.0 L612.4 905.5 L609.6 903.0 L606.7 900.6 L603.7 898.2 L600.5 896.0 L597.2 893.9 L593.9 891.9 L590.4 889.9 L586.9 888.1 L583.3 886.4 L579.7 884.8 L576.1 883.2 L572.4 881.8 L568.7 880.5 L565.1 879.3 L561.5 878.1 L557.8 877.1 L553.8 876.2 L549.4 875.4 L544.6 874.7 L539.4 874.1 L533.7 873.7 L527.8 873.3 L521.5 873.0 L515.0 872.9Z"/></clipPath><path d="M508.5 872.8 L502.0 872.9 L495.5 873.0 L489.2 873.3 L483.3 873.7 L477.6 874.1 L472.4 874.7 L467.6 875.4 L463.2 876.2 L459.2 877.1 L455.5 878.1 L451.9 879.3 L448.3 880.5 L444.6 881.8 L440.9 883.2 L437.3 884.8 L433.7 886.4 L430.1 888.1 L426.6 889.9 L423.1 891.9 L419.8 893.9 L416.5 896.0 L413.3 898.2 L410.3 900.6 L407.4 903.0 L404.6 905.5 L402.0 908.0 L399.5 910.7 L397.2 913.5 L395.0 916.3 L393.0 919.3 L391.2 922.3 L389.5 925.4 L388.0 928.6 L386.6 931.8 L385.4 935.2 L384.4 938.6 L383.6 942.1 L382.9 945.6 L382.4 949.3 L382.0 953.0 L381.7 956.7 L381.7 960.6 L381.7 964.5 L381.9 968.4 L382.2 972.4 L382.7 976.5 L383.2 980.6 L383.8 984.8 L384.5 989.0 L385.3 993.3 L386.1 997.6 L387.0 1002.0 L387.9 1006.4 L388.8 1010.8 L389.7 1015.3 L390.6 1019.8 L391.6 1024.3 L392.5 1028.9 L393.5 1033.5 L394.5 1038.1 L395.6 1042.8 L396.6 1047.5 L397.7 1052.1 L398.8 1056.9 L399.9 1061.6 L401.0 1066.3 L402.2 1071.0 L403.3 1075.8 L404.5 1080.5 L405.7 1085.3 L406.9 1090.0 L408.2 1094.8 L409.4 1099.5 L410.7 1104.2 L412.0 1108.9 L413.3 1113.7 L414.6 1118.3 L415.9 1123.0 L417.2 1127.7 L418.6 1132.3 L419.9 1136.9 L421.3 1141.5 L422.7 1146.0 L424.1 1150.5 L425.5 1155.0 L426.9 1159.4 L428.4 1163.8 L429.8 1168.2 L431.3 1172.5 L432.7 1176.8 L434.2 1181.0 L435.7 1185.2 L437.1 1189.3 L438.6 1193.4 L440.1 1197.4 L441.6 1201.3 L443.2 1205.2 L444.7 1209.1 L446.2 1212.8 L447.7 1216.5 L449.3 1220.2 L450.8 1223.7 L452.3 1227.2 L453.9 1230.6 L455.4 1234.0 L457.0 1237.2 L458.5 1240.4 L460.1 1243.5 L461.6 1246.5 L463.2 1249.5 L464.8 1252.3 L466.3 1255.1 L467.9 1257.8 L469.4 1260.3 L471.0 1262.8 L472.6 1265.2 L474.1 1267.6 L475.7 1269.8 L477.3 1271.9 L478.8 1273.9 L480.4 1275.9 L482.0 1277.7 L483.5 1279.4 L485.1 1281.0 L486.7 1282.6 L488.2 1284.0 L489.8 1285.3 L491.3 1286.5 L492.9 1287.7 L494.5 1288.7 L496.0 1289.6 L497.6 1290.4 L499.1 1291.1 L500.7 1291.7 L502.3 1292.1 L503.8 1292.5 L505.4 1292.8 L506.9 1292.9 L508.5 1293.0 L510.1 1292.9 L511.6 1292.8 L513.2 1292.5 L514.7 1292.1 L516.3 1291.7 L517.9 1291.1 L519.4 1290.4 L521.0 1289.6 L522.5 1288.7 L524.1 1287.7 L525.7 1286.5 L527.2 1285.3 L528.8 1284.0 L530.3 1282.6 L531.9 1281.0 L533.5 1279.4 L535.0 1277.7 L536.6 1275.9 L538.2 1273.9 L539.7 1271.9 L541.3 1269.8 L542.9 1267.6 L544.4 1265.2 L546.0 1262.8 L547.6 1260.3 L549.1 1257.8 L550.7 1255.1 L552.2 1252.3 L553.8 1249.5 L555.4 1246.5 L556.9 1243.5 L558.5 1240.4 L560.0 1237.2 L561.6 1234.0 L563.1 1230.6 L564.7 1227.2 L566.2 1223.7 L567.7 1220.2 L569.3 1216.5 L570.8 1212.8 L572.3 1209.1 L573.8 1205.2 L575.4 1201.3 L576.9 1197.4 L578.4 1193.4 L579.9 1189.3 L581.3 1185.2 L582.8 1181.0 L584.3 1176.8 L585.7 1172.5 L587.2 1168.2 L588.6 1163.8 L590.1 1159.4 L591.5 1155.0 L592.9 1150.5 L594.3 1146.0 L595.7 1141.5 L597.1 1136.9 L598.4 1132.3 L599.8 1127.7 L601.1 1123.0 L602.4 1118.3 L603.7 1113.7 L605.0 1108.9 L606.3 1104.2 L607.6 1099.5 L608.8 1094.8 L610.1 1090.0 L611.3 1085.3 L612.5 1080.5 L613.7 1075.8 L614.8 1071.0 L616.0 1066.3 L617.1 1061.6 L618.2 1056.9 L619.3 1052.1 L620.4 1047.5 L621.4 1042.8 L622.5 1038.1 L623.5 1033.5 L624.5 1028.9 L625.4 1024.3 L626.4 1019.8 L627.3 1015.3 L628.2 1010.8 L629.1 1006.4 L630.0 1002.0 L630.9 997.6 L631.7 993.3 L632.5 989.0 L633.2 984.8 L633.8 980.6 L634.3 976.5 L634.8 972.4 L635.1 968.4 L635.3 964.5 L635.3 960.6 L635.3 956.7 L635.0 953.0 L634.6 949.3 L634.1 945.6 L633.4 942.1 L632.6 938.6 L631.6 935.2 L630.4 931.8 L629.0 928.6 L627.5 925.4 L625.8 922.3 L624.0 919.3 L622.0 916.3 L619.8 913.5 L617.5 910.7 L615.0 908.0 L612.4 905.5 L609.6 903.0 L606.7 900.6 L603.7 898.2 L600.5 896.0 L597.2 893.9 L593.9 891.9 L590.4 889.9 L586.9 888.1 L583.3 886.4 L579.7 884.8 L576.1 883.2 L572.4 881.8 L568.7 880.5 L565.1 879.3 L561.5 878.1 L557.8 877.1 L553.8 876.2 L549.4 875.4 L544.6 874.7 L539.4 874.1 L533.7 873.7 L527.8 873.3 L521.5 873.0 L515.0 872.9Z" fill="#62ad43" stroke="#c6dc2f" stroke-width="18.0" clip-path="url(#cg)"/>
<clipPath id="co"><path d="M508.5 872.8 L504.8 872.8 L501.1 873.0 L497.5 873.1 L493.8 873.4 L490.2 873.7 L486.7 874.2 L483.1 874.7 L479.6 875.2 L476.2 875.9 L472.8 876.6 L469.5 877.4 L466.3 878.2 L463.1 879.1 L460.0 880.2 L457.1 881.2 L454.2 882.4 L451.4 883.6 L448.7 884.9 L446.1 886.3 L443.6 887.7 L441.2 889.2 L439.0 890.7 L436.8 892.4 L434.8 894.1 L432.9 895.8 L431.1 897.7 L429.4 899.5 L427.9 901.5 L426.4 903.5 L425.0 905.6 L423.8 907.7 L422.6 909.9 L421.6 912.1 L420.6 914.4 L419.7 916.8 L418.9 919.2 L418.1 921.7 L417.4 924.2 L416.8 926.7 L416.3 929.3 L415.9 932.0 L415.6 934.7 L415.3 937.4 L415.1 940.2 L415.0 943.0 L415.0 945.9 L415.1 948.8 L415.2 951.8 L415.5 954.7 L415.8 957.7 L416.1 960.8 L416.6 963.9 L417.1 967.0 L417.7 970.1 L418.3 973.3 L419.0 976.4 L419.7 979.6 L420.5 982.9 L421.3 986.1 L422.2 989.4 L423.1 992.7 L424.0 996.0 L424.9 999.3 L425.9 1002.6 L426.8 1005.9 L427.8 1009.2 L428.8 1012.6 L429.7 1015.9 L430.7 1019.3 L431.7 1022.6 L432.7 1026.0 L433.7 1029.3 L434.7 1032.7 L435.7 1036.0 L436.7 1039.3 L437.7 1042.6 L438.7 1045.9 L439.7 1049.2 L440.7 1052.5 L441.8 1055.8 L442.8 1059.0 L443.8 1062.3 L444.9 1065.5 L445.9 1068.6 L447.0 1071.8 L448.0 1074.9 L449.1 1078.0 L450.2 1081.1 L451.2 1084.2 L452.3 1087.2 L453.4 1090.1 L454.5 1093.1 L455.6 1096.0 L456.6 1098.9 L457.7 1101.7 L458.8 1104.5 L459.9 1107.2 L461.0 1109.9 L462.1 1112.6 L463.2 1115.2 L464.4 1117.7 L465.5 1120.2 L466.6 1122.7 L467.7 1125.1 L468.8 1127.5 L470.0 1129.8 L471.1 1132.0 L472.2 1134.2 L473.4 1136.3 L474.5 1138.4 L475.6 1140.4 L476.8 1142.4 L477.9 1144.2 L479.1 1146.1 L480.2 1147.8 L481.4 1149.5 L482.6 1151.2 L483.7 1152.7 L484.9 1154.2 L486.1 1155.6 L487.2 1157.0 L488.4 1158.3 L489.6 1159.5 L490.7 1160.7 L491.9 1161.7 L493.1 1162.8 L494.3 1163.7 L495.5 1164.5 L496.6 1165.3 L497.8 1166.0 L499.0 1166.7 L500.2 1167.2 L501.4 1167.7 L502.6 1168.2 L503.7 1168.5 L504.9 1168.8 L506.1 1168.9 L507.3 1169.1 L508.5 1169.1 L509.7 1169.1 L510.9 1168.9 L512.1 1168.8 L513.3 1168.5 L514.4 1168.2 L515.6 1167.7 L516.8 1167.2 L518.0 1166.7 L519.2 1166.0 L520.4 1165.3 L521.5 1164.5 L522.7 1163.7 L523.9 1162.8 L525.1 1161.7 L526.3 1160.7 L527.4 1159.5 L528.6 1158.3 L529.8 1157.0 L530.9 1155.6 L532.1 1154.2 L533.3 1152.7 L534.4 1151.2 L535.6 1149.5 L536.8 1147.8 L537.9 1146.1 L539.1 1144.2 L540.2 1142.4 L541.4 1140.4 L542.5 1138.4 L543.6 1136.3 L544.8 1134.2 L545.9 1132.0 L547.0 1129.8 L548.2 1127.5 L549.3 1125.1 L550.4 1122.7 L551.5 1120.2 L552.6 1117.7 L553.8 1115.2 L554.9 1112.6 L556.0 1109.9 L557.1 1107.2 L558.2 1104.5 L559.3 1101.7 L560.4 1098.9 L561.4 1096.0 L562.5 1093.1 L563.6 1090.1 L564.7 1087.2 L565.8 1084.2 L566.8 1081.1 L567.9 1078.0 L569.0 1074.9 L570.0 1071.8 L571.1 1068.6 L572.1 1065.5 L573.2 1062.3 L574.2 1059.0 L575.2 1055.8 L576.3 1052.5 L577.3 1049.2 L578.3 1045.9 L579.3 1042.6 L580.3 1039.3 L581.3 1036.0 L582.3 1032.7 L583.3 1029.3 L584.3 1026.0 L585.3 1022.6 L586.3 1019.3 L587.3 1015.9 L588.2 1012.6 L589.2 1009.2 L590.2 1005.9 L591.1 1002.6 L592.1 999.3 L593.0 996.0 L593.9 992.7 L594.8 989.4 L595.7 986.1 L596.5 982.9 L597.3 979.6 L598.0 976.4 L598.7 973.3 L599.3 970.1 L599.9 967.0 L600.4 963.9 L600.9 960.8 L601.2 957.7 L601.5 954.7 L601.8 951.8 L601.9 948.8 L602.0 945.9 L602.0 943.0 L601.9 940.2 L601.7 937.4 L601.4 934.7 L601.1 932.0 L600.7 929.3 L600.2 926.7 L599.6 924.2 L598.9 921.7 L598.1 919.2 L597.3 916.8 L596.4 914.4 L595.4 912.1 L594.4 909.9 L593.2 907.7 L592.0 905.6 L590.6 903.5 L589.1 901.5 L587.6 899.5 L585.9 897.7 L584.1 895.8 L582.2 894.1 L580.2 892.4 L578.0 890.7 L575.8 889.2 L573.4 887.7 L570.9 886.3 L568.3 884.9 L565.6 883.6 L562.8 882.4 L559.9 881.2 L557.0 880.2 L553.9 879.1 L550.7 878.2 L547.5 877.4 L544.2 876.6 L540.8 875.9 L537.4 875.2 L533.9 874.7 L530.3 874.2 L526.8 873.7 L523.2 873.4 L519.5 873.1 L515.9 873.0 L512.2 872.8Z"/></clipPath><path d="M508.5 872.8 L504.8 872.8 L501.1 873.0 L497.5 873.1 L493.8 873.4 L490.2 873.7 L486.7 874.2 L483.1 874.7 L479.6 875.2 L476.2 875.9 L472.8 876.6 L469.5 877.4 L466.3 878.2 L463.1 879.1 L460.0 880.2 L457.1 881.2 L454.2 882.4 L451.4 883.6 L448.7 884.9 L446.1 886.3 L443.6 887.7 L441.2 889.2 L439.0 890.7 L436.8 892.4 L434.8 894.1 L432.9 895.8 L431.1 897.7 L429.4 899.5 L427.9 901.5 L426.4 903.5 L425.0 905.6 L423.8 907.7 L422.6 909.9 L421.6 912.1 L420.6 914.4 L419.7 916.8 L418.9 919.2 L418.1 921.7 L417.4 924.2 L416.8 926.7 L416.3 929.3 L415.9 932.0 L415.6 934.7 L415.3 937.4 L415.1 940.2 L415.0 943.0 L415.0 945.9 L415.1 948.8 L415.2 951.8 L415.5 954.7 L415.8 957.7 L416.1 960.8 L416.6 963.9 L417.1 967.0 L417.7 970.1 L418.3 973.3 L419.0 976.4 L419.7 979.6 L420.5 982.9 L421.3 986.1 L422.2 989.4 L423.1 992.7 L424.0 996.0 L424.9 999.3 L425.9 1002.6 L426.8 1005.9 L427.8 1009.2 L428.8 1012.6 L429.7 1015.9 L430.7 1019.3 L431.7 1022.6 L432.7 1026.0 L433.7 1029.3 L434.7 1032.7 L435.7 1036.0 L436.7 1039.3 L437.7 1042.6 L438.7 1045.9 L439.7 1049.2 L440.7 1052.5 L441.8 1055.8 L442.8 1059.0 L443.8 1062.3 L444.9 1065.5 L445.9 1068.6 L447.0 1071.8 L448.0 1074.9 L449.1 1078.0 L450.2 1081.1 L451.2 1084.2 L452.3 1087.2 L453.4 1090.1 L454.5 1093.1 L455.6 1096.0 L456.6 1098.9 L457.7 1101.7 L458.8 1104.5 L459.9 1107.2 L461.0 1109.9 L462.1 1112.6 L463.2 1115.2 L464.4 1117.7 L465.5 1120.2 L466.6 1122.7 L467.7 1125.1 L468.8 1127.5 L470.0 1129.8 L471.1 1132.0 L472.2 1134.2 L473.4 1136.3 L474.5 1138.4 L475.6 1140.4 L476.8 1142.4 L477.9 1144.2 L479.1 1146.1 L480.2 1147.8 L481.4 1149.5 L482.6 1151.2 L483.7 1152.7 L484.9 1154.2 L486.1 1155.6 L487.2 1157.0 L488.4 1158.3 L489.6 1159.5 L490.7 1160.7 L491.9 1161.7 L493.1 1162.8 L494.3 1163.7 L495.5 1164.5 L496.6 1165.3 L497.8 1166.0 L499.0 1166.7 L500.2 1167.2 L501.4 1167.7 L502.6 1168.2 L503.7 1168.5 L504.9 1168.8 L506.1 1168.9 L507.3 1169.1 L508.5 1169.1 L509.7 1169.1 L510.9 1168.9 L512.1 1168.8 L513.3 1168.5 L514.4 1168.2 L515.6 1167.7 L516.8 1167.2 L518.0 1166.7 L519.2 1166.0 L520.4 1165.3 L521.5 1164.5 L522.7 1163.7 L523.9 1162.8 L525.1 1161.7 L526.3 1160.7 L527.4 1159.5 L528.6 1158.3 L529.8 1157.0 L530.9 1155.6 L532.1 1154.2 L533.3 1152.7 L534.4 1151.2 L535.6 1149.5 L536.8 1147.8 L537.9 1146.1 L539.1 1144.2 L540.2 1142.4 L541.4 1140.4 L542.5 1138.4 L543.6 1136.3 L544.8 1134.2 L545.9 1132.0 L547.0 1129.8 L548.2 1127.5 L549.3 1125.1 L550.4 1122.7 L551.5 1120.2 L552.6 1117.7 L553.8 1115.2 L554.9 1112.6 L556.0 1109.9 L557.1 1107.2 L558.2 1104.5 L559.3 1101.7 L560.4 1098.9 L561.4 1096.0 L562.5 1093.1 L563.6 1090.1 L564.7 1087.2 L565.8 1084.2 L566.8 1081.1 L567.9 1078.0 L569.0 1074.9 L570.0 1071.8 L571.1 1068.6 L572.1 1065.5 L573.2 1062.3 L574.2 1059.0 L575.2 1055.8 L576.3 1052.5 L577.3 1049.2 L578.3 1045.9 L579.3 1042.6 L580.3 1039.3 L581.3 1036.0 L582.3 1032.7 L583.3 1029.3 L584.3 1026.0 L585.3 1022.6 L586.3 1019.3 L587.3 1015.9 L588.2 1012.6 L589.2 1009.2 L590.2 1005.9 L591.1 1002.6 L592.1 999.3 L593.0 996.0 L593.9 992.7 L594.8 989.4 L595.7 986.1 L596.5 982.9 L597.3 979.6 L598.0 976.4 L598.7 973.3 L599.3 970.1 L599.9 967.0 L600.4 963.9 L600.9 960.8 L601.2 957.7 L601.5 954.7 L601.8 951.8 L601.9 948.8 L602.0 945.9 L602.0 943.0 L601.9 940.2 L601.7 937.4 L601.4 934.7 L601.1 932.0 L600.7 929.3 L600.2 926.7 L599.6 924.2 L598.9 921.7 L598.1 919.2 L597.3 916.8 L596.4 914.4 L595.4 912.1 L594.4 909.9 L593.2 907.7 L592.0 905.6 L590.6 903.5 L589.1 901.5 L587.6 899.5 L585.9 897.7 L584.1 895.8 L582.2 894.1 L580.2 892.4 L578.0 890.7 L575.8 889.2 L573.4 887.7 L570.9 886.3 L568.3 884.9 L565.6 883.6 L562.8 882.4 L559.9 881.2 L557.0 880.2 L553.9 879.1 L550.7 878.2 L547.5 877.4 L544.2 876.6 L540.8 875.9 L537.4 875.2 L533.9 874.7 L530.3 874.2 L526.8 873.7 L523.2 873.4 L519.5 873.1 L515.9 873.0 L512.2 872.8Z" fill="#f79420" stroke="#c8232c" stroke-width="18.0" clip-path="url(#co)"/>
<clipPath id="cr"><path d="M508.5 872.8 L505.3 872.8 L502.2 872.9 L499.2 872.9 L496.3 873.1 L493.5 873.2 L490.9 873.4 L488.5 873.6 L486.3 873.9 L484.4 874.1 L482.8 874.4 L481.4 874.8 L480.3 875.2 L479.3 875.6 L478.6 876.0 L477.9 876.5 L477.2 877.0 L476.5 877.5 L475.8 878.1 L475.2 878.7 L474.6 879.3 L474.0 880.0 L473.5 880.6 L473.0 881.4 L472.5 882.1 L472.1 882.9 L471.7 883.7 L471.4 884.5 L471.1 885.3 L470.9 886.2 L470.7 887.1 L470.5 888.1 L470.4 889.0 L470.3 890.0 L470.2 891.0 L470.1 892.0 L470.0 893.1 L469.9 894.2 L469.9 895.2 L469.8 896.4 L469.8 897.5 L469.7 898.7 L469.7 899.8 L469.7 901.0 L469.7 902.3 L469.7 903.5 L469.7 904.8 L469.7 906.0 L469.7 907.3 L469.7 908.6 L469.8 909.9 L469.8 911.3 L469.9 912.6 L469.9 914.0 L470.0 915.3 L470.1 916.7 L470.1 918.1 L470.2 919.5 L470.3 920.9 L470.4 922.3 L470.5 923.8 L470.6 925.2 L470.7 926.6 L470.8 928.1 L470.9 929.5 L471.0 931.0 L471.1 932.4 L471.2 933.9 L471.3 935.4 L471.4 936.8 L471.5 938.3 L471.6 939.7 L471.7 941.2 L471.8 942.7 L471.9 944.1 L472.0 945.6 L472.2 947.0 L472.3 948.5 L472.4 949.9 L472.6 951.3 L472.7 952.8 L472.9 954.2 L473.1 955.6 L473.3 957.0 L473.5 958.4 L473.7 959.8 L473.9 961.1 L474.2 962.5 L474.4 963.8 L474.7 965.2 L475.0 966.5 L475.3 967.8 L475.6 969.1 L475.9 970.3 L476.3 971.6 L476.7 972.8 L477.1 974.1 L477.5 975.3 L477.9 976.4 L478.3 977.6 L478.8 978.7 L479.3 979.9 L479.8 980.9 L480.3 982.0 L480.8 983.1 L481.4 984.1 L481.9 985.1 L482.5 986.1 L483.1 987.0 L483.8 988.0 L484.4 988.9 L485.1 989.8 L485.7 990.6 L486.4 991.4 L487.1 992.2 L487.9 993.0 L488.6 993.7 L489.3 994.5 L490.1 995.1 L490.9 995.8 L491.7 996.4 L492.5 997.0 L493.3 997.6 L494.1 998.1 L495.0 998.6 L495.8 999.1 L496.7 999.5 L497.6 999.9 L498.5 1000.3 L499.3 1000.7 L500.2 1001.0 L501.1 1001.2 L502.0 1001.5 L503.0 1001.7 L503.9 1001.9 L504.8 1002.0 L505.7 1002.2 L506.6 1002.2 L507.6 1002.3 L508.5 1002.3 L509.4 1002.3 L510.4 1002.2 L511.3 1002.2 L512.2 1002.0 L513.1 1001.9 L514.0 1001.7 L515.0 1001.5 L515.9 1001.2 L516.8 1001.0 L517.7 1000.7 L518.5 1000.3 L519.4 999.9 L520.3 999.5 L521.2 999.1 L522.0 998.6 L522.9 998.1 L523.7 997.6 L524.5 997.0 L525.3 996.4 L526.1 995.8 L526.9 995.1 L527.7 994.5 L528.4 993.7 L529.1 993.0 L529.9 992.2 L530.6 991.4 L531.3 990.6 L531.9 989.8 L532.6 988.9 L533.2 988.0 L533.9 987.0 L534.5 986.1 L535.1 985.1 L535.6 984.1 L536.2 983.1 L536.7 982.0 L537.2 980.9 L537.7 979.9 L538.2 978.7 L538.7 977.6 L539.1 976.4 L539.5 975.3 L539.9 974.1 L540.3 972.8 L540.7 971.6 L541.1 970.3 L541.4 969.1 L541.7 967.8 L542.0 966.5 L542.3 965.2 L542.6 963.8 L542.8 962.5 L543.1 961.1 L543.3 959.8 L543.5 958.4 L543.7 957.0 L543.9 955.6 L544.1 954.2 L544.3 952.8 L544.4 951.3 L544.6 949.9 L544.7 948.5 L544.8 947.0 L545.0 945.6 L545.1 944.1 L545.2 942.7 L545.3 941.2 L545.4 939.7 L545.5 938.3 L545.6 936.8 L545.7 935.4 L545.8 933.9 L545.9 932.4 L546.0 931.0 L546.1 929.5 L546.2 928.1 L546.3 926.6 L546.4 925.2 L546.5 923.8 L546.6 922.3 L546.7 920.9 L546.8 919.5 L546.9 918.1 L546.9 916.7 L547.0 915.3 L547.1 914.0 L547.1 912.6 L547.2 911.3 L547.2 909.9 L547.3 908.6 L547.3 907.3 L547.3 906.0 L547.3 904.8 L547.3 903.5 L547.3 902.3 L547.3 901.0 L547.3 899.8 L547.3 898.7 L547.2 897.5 L547.2 896.4 L547.1 895.2 L547.1 894.2 L547.0 893.1 L546.9 892.0 L546.8 891.0 L546.7 890.0 L546.6 889.0 L546.5 888.1 L546.3 887.1 L546.1 886.2 L545.9 885.3 L545.6 884.5 L545.3 883.7 L544.9 882.9 L544.5 882.1 L544.0 881.4 L543.5 880.6 L543.0 880.0 L542.4 879.3 L541.8 878.7 L541.2 878.1 L540.5 877.5 L539.8 877.0 L539.1 876.5 L538.4 876.0 L537.7 875.6 L536.7 875.2 L535.6 874.8 L534.2 874.4 L532.6 874.1 L530.7 873.9 L528.5 873.6 L526.1 873.4 L523.5 873.2 L520.7 873.1 L517.8 872.9 L514.8 872.9 L511.7 872.8Z"/></clipPath><path d="M508.5 872.8 L505.3 872.8 L502.2 872.9 L499.2 872.9 L496.3 873.1 L493.5 873.2 L490.9 873.4 L488.5 873.6 L486.3 873.9 L484.4 874.1 L482.8 874.4 L481.4 874.8 L480.3 875.2 L479.3 875.6 L478.6 876.0 L477.9 876.5 L477.2 877.0 L476.5 877.5 L475.8 878.1 L475.2 878.7 L474.6 879.3 L474.0 880.0 L473.5 880.6 L473.0 881.4 L472.5 882.1 L472.1 882.9 L471.7 883.7 L471.4 884.5 L471.1 885.3 L470.9 886.2 L470.7 887.1 L470.5 888.1 L470.4 889.0 L470.3 890.0 L470.2 891.0 L470.1 892.0 L470.0 893.1 L469.9 894.2 L469.9 895.2 L469.8 896.4 L469.8 897.5 L469.7 898.7 L469.7 899.8 L469.7 901.0 L469.7 902.3 L469.7 903.5 L469.7 904.8 L469.7 906.0 L469.7 907.3 L469.7 908.6 L469.8 909.9 L469.8 911.3 L469.9 912.6 L469.9 914.0 L470.0 915.3 L470.1 916.7 L470.1 918.1 L470.2 919.5 L470.3 920.9 L470.4 922.3 L470.5 923.8 L470.6 925.2 L470.7 926.6 L470.8 928.1 L470.9 929.5 L471.0 931.0 L471.1 932.4 L471.2 933.9 L471.3 935.4 L471.4 936.8 L471.5 938.3 L471.6 939.7 L471.7 941.2 L471.8 942.7 L471.9 944.1 L472.0 945.6 L472.2 947.0 L472.3 948.5 L472.4 949.9 L472.6 951.3 L472.7 952.8 L472.9 954.2 L473.1 955.6 L473.3 957.0 L473.5 958.4 L473.7 959.8 L473.9 961.1 L474.2 962.5 L474.4 963.8 L474.7 965.2 L475.0 966.5 L475.3 967.8 L475.6 969.1 L475.9 970.3 L476.3 971.6 L476.7 972.8 L477.1 974.1 L477.5 975.3 L477.9 976.4 L478.3 977.6 L478.8 978.7 L479.3 979.9 L479.8 980.9 L480.3 982.0 L480.8 983.1 L481.4 984.1 L481.9 985.1 L482.5 986.1 L483.1 987.0 L483.8 988.0 L484.4 988.9 L485.1 989.8 L485.7 990.6 L486.4 991.4 L487.1 992.2 L487.9 993.0 L488.6 993.7 L489.3 994.5 L490.1 995.1 L490.9 995.8 L491.7 996.4 L492.5 997.0 L493.3 997.6 L494.1 998.1 L495.0 998.6 L495.8 999.1 L496.7 999.5 L497.6 999.9 L498.5 1000.3 L499.3 1000.7 L500.2 1001.0 L501.1 1001.2 L502.0 1001.5 L503.0 1001.7 L503.9 1001.9 L504.8 1002.0 L505.7 1002.2 L506.6 1002.2 L507.6 1002.3 L508.5 1002.3 L509.4 1002.3 L510.4 1002.2 L511.3 1002.2 L512.2 1002.0 L513.1 1001.9 L514.0 1001.7 L515.0 1001.5 L515.9 1001.2 L516.8 1001.0 L517.7 1000.7 L518.5 1000.3 L519.4 999.9 L520.3 999.5 L521.2 999.1 L522.0 998.6 L522.9 998.1 L523.7 997.6 L524.5 997.0 L525.3 996.4 L526.1 995.8 L526.9 995.1 L527.7 994.5 L528.4 993.7 L529.1 993.0 L529.9 992.2 L530.6 991.4 L531.3 990.6 L531.9 989.8 L532.6 988.9 L533.2 988.0 L533.9 987.0 L534.5 986.1 L535.1 985.1 L535.6 984.1 L536.2 983.1 L536.7 982.0 L537.2 980.9 L537.7 979.9 L538.2 978.7 L538.7 977.6 L539.1 976.4 L539.5 975.3 L539.9 974.1 L540.3 972.8 L540.7 971.6 L541.1 970.3 L541.4 969.1 L541.7 967.8 L542.0 966.5 L542.3 965.2 L542.6 963.8 L542.8 962.5 L543.1 961.1 L543.3 959.8 L543.5 958.4 L543.7 957.0 L543.9 955.6 L544.1 954.2 L544.3 952.8 L544.4 951.3 L544.6 949.9 L544.7 948.5 L544.8 947.0 L545.0 945.6 L545.1 944.1 L545.2 942.7 L545.3 941.2 L545.4 939.7 L545.5 938.3 L545.6 936.8 L545.7 935.4 L545.8 933.9 L545.9 932.4 L546.0 931.0 L546.1 929.5 L546.2 928.1 L546.3 926.6 L546.4 925.2 L546.5 923.8 L546.6 922.3 L546.7 920.9 L546.8 919.5 L546.9 918.1 L546.9 916.7 L547.0 915.3 L547.1 914.0 L547.1 912.6 L547.2 911.3 L547.2 909.9 L547.3 908.6 L547.3 907.3 L547.3 906.0 L547.3 904.8 L547.3 903.5 L547.3 902.3 L547.3 901.0 L547.3 899.8 L547.3 898.7 L547.2 897.5 L547.2 896.4 L547.1 895.2 L547.1 894.2 L547.0 893.1 L546.9 892.0 L546.8 891.0 L546.7 890.0 L546.6 889.0 L546.5 888.1 L546.3 887.1 L546.1 886.2 L545.9 885.3 L545.6 884.5 L545.3 883.7 L544.9 882.9 L544.5 882.1 L544.0 881.4 L543.5 880.6 L543.0 880.0 L542.4 879.3 L541.8 878.7 L541.2 878.1 L540.5 877.5 L539.8 877.0 L539.1 876.5 L538.4 876.0 L537.7 875.6 L536.7 875.2 L535.6 874.8 L534.2 874.4 L532.6 874.1 L530.7 873.9 L528.5 873.6 L526.1 873.4 L523.5 873.2 L520.7 873.1 L517.8 872.9 L514.8 872.9 L511.7 872.8Z" fill="#c8232f" stroke="#231f20" stroke-width="13.8" clip-path="url(#cr)"/>
<ellipse cx="508.5" cy="896" rx="30.2" ry="19" fill="url(#bulb)" stroke="#fff200" stroke-width="3.6"/>
<text x="508.0" y="981.7" font-size="28.6" font-weight="bold" text-anchor="middle" fill="#fff" textLength="33.5" lengthAdjust="spacingAndGlyphs" stroke="#fff" stroke-width="0.9" stroke-linejoin="round">100</text>
<text x="508.2" y="1147.0" font-size="28.6" font-weight="bold" text-anchor="middle" fill="#fdf3d8" textLength="24.5" lengthAdjust="spacingAndGlyphs" stroke="#fdf3d8" stroke-width="0.9" stroke-linejoin="round">50</text>
<text x="508.2" y="1276.0" font-size="28.6" font-weight="bold" text-anchor="middle" fill="#f3fbe8" textLength="24.5" lengthAdjust="spacingAndGlyphs" stroke="#f3fbe8" stroke-width="0.9" stroke-linejoin="round">25</text>
<text x="508.5" y="1402.5" font-size="28.6" font-weight="bold" text-anchor="middle" fill="#eaf8fa" textLength="12.0" lengthAdjust="spacingAndGlyphs" stroke="#eaf8fa" stroke-width="0.9" stroke-linejoin="round">5</text>
</g>
<g id="dist">
<path d="M241.3 902.7V1424" stroke="#231f20" stroke-width="2.4" fill="none"/>
<path d="M232.5 916.5H249.5M232.5 999.2H249.5M232.5 1164.3H249.5M232.5 1287.5H249.5M232.5 1412.0H249.5" stroke="#231f20" stroke-width="2.4" fill="none"/>
<text x="221.0" y="925.9" font-size="37.3" font-weight="bold" text-anchor="end" fill="#231f20" textLength="93.0" lengthAdjust="spacingAndGlyphs" stroke="#231f20" stroke-width="2.1" stroke-linejoin="round">BULB</text>
<text x="229.0" y="1013.0" font-size="37.5" font-weight="bold" text-anchor="end" fill="#231f20" textLength="40.5" lengthAdjust="spacingAndGlyphs" stroke="#231f20" stroke-width="2.2" stroke-linejoin="round">4"</text>
<text x="229.0" y="1177.4" font-size="37.5" font-weight="bold" text-anchor="end" fill="#231f20" textLength="61.0" lengthAdjust="spacingAndGlyphs" stroke="#231f20" stroke-width="2.2" stroke-linejoin="round">12"</text>
<text x="229.0" y="1301.6" font-size="37.5" font-weight="bold" text-anchor="end" fill="#231f20" textLength="61.0" lengthAdjust="spacingAndGlyphs" stroke="#231f20" stroke-width="2.2" stroke-linejoin="round">18"</text>
<text x="229.0" y="1425.3" font-size="37.5" font-weight="bold" text-anchor="end" fill="#231f20" textLength="64.0" lengthAdjust="spacingAndGlyphs" stroke="#231f20" stroke-width="2.2" stroke-linejoin="round">24"</text>
<g transform="translate(70.7 1157.3) rotate(-90)"><text x="0.0" y="0.0" font-size="42.8" font-weight="bold" text-anchor="middle" fill="#231f20" textLength="555.0" lengthAdjust="spacingAndGlyphs" stroke="#231f20" stroke-width="2.3" stroke-linejoin="round">DISTANCE FROM LIGHT SOURCE</text></g>
<g transform="translate(117.3 1156.7) rotate(-90)"><text x="0.0" y="0.0" font-size="37.0" font-weight="normal" text-anchor="middle" fill="#231f20" textLength="356.0" lengthAdjust="spacingAndGlyphs" font-style="italic" stroke="#231f20" stroke-width="1.2" stroke-linejoin="round">APPROXIMATE DISTANCE</text></g>
</g>
<g id="box2" fill="#231f20" filter="url(#rough2)">
<path d="M5.0 851.3 L33.1 851.6 L70.7 851.3 L123.8 852.2 L174.0 851.9 L206.3 851.4 L235.1 851.7 L288.5 852.3 L330.8 851.1 L377.2 852.1 L404.0 851.5 L429.9 851.6 L475.9 852.0 L513.5 851.3 L539.8 851.5 L593.9 851.7 L638.2 852.0 L687.8 851.1 L714.5 851.8 L765.9 851.5 L792.0 851.4 L843.6 851.0 L882.1 850.9 L917.0 850.5 L958.7 850.5 L1012.4 850.4 L1044.9 851.3 L1073.1 850.6 L1113.9 850.4 L1145.5 850.3 L1173.1 851.3 L1202.2 851.3 L1227.8 851.0 L1258.3 850.4 L1292.3 850.3 L1326.0 850.4 L1374.3 850.6 L1407.6 850.1 L1447.6 850.5 L1477.3 850.2 L1497.0 851.1 L1497.0 858.5 L1477.3 858.6 L1447.6 858.1 L1407.6 859.1 L1374.3 859.1 L1326.0 859.1 L1292.3 859.5 L1258.3 859.5 L1227.8 858.5 L1202.2 859.4 L1173.1 859.6 L1145.5 858.8 L1113.9 860.1 L1073.1 859.3 L1044.9 859.4 L1012.4 860.2 L958.7 860.1 L917.0 860.1 L882.1 860.3 L843.6 860.1 L792.0 860.3 L765.9 859.8 L714.5 860.1 L687.8 859.7 L638.2 859.9 L593.9 860.5 L539.8 860.2 L513.5 860.5 L475.9 860.2 L429.9 861.0 L404.0 860.6 L377.2 861.1 L330.8 861.2 L288.5 861.2 L235.1 860.8 L206.3 861.3 L174.0 861.3 L123.8 862.4 L70.7 861.5 L33.1 862.0 L5.0 862.7Z"/>
<path d="M5.5 852.0 L5.4 902.7 L5.1 952.5 L4.3 1002.9 L5.3 1045.6 L5.1 1098.2 L4.7 1144.0 L4.6 1190.2 L4.7 1221.6 L3.9 1246.6 L4.7 1274.8 L4.0 1310.4 L3.7 1337.7 L3.8 1388.5 L4.4 1430.3 L3.6 1464.0 L11.3 1464.0 L12.2 1430.3 L11.9 1388.5 L12.6 1337.7 L12.0 1310.4 L11.9 1274.8 L11.9 1246.6 L12.7 1221.6 L12.7 1190.2 L13.1 1144.0 L13.0 1098.2 L12.9 1045.6 L12.8 1002.9 L13.1 952.5 L13.9 902.7 L13.6 852.0Z"/>
<path d="M1489.9 850.0 L1490.2 875.9 L1489.4 908.5 L1489.2 954.0 L1489.1 1000.2 L1490.1 1045.8 L1489.1 1079.1 L1489.6 1119.7 L1489.0 1158.5 L1489.5 1197.4 L1490.1 1225.2 L1489.0 1277.8 L1489.9 1308.2 L1489.5 1363.5 L1490.0 1417.5 L1489.8 1442.0 L1489.1 1457.0 L1494.8 1457.0 L1495.2 1442.0 L1494.1 1417.5 L1495.4 1363.5 L1495.5 1308.2 L1494.5 1277.8 L1495.9 1225.2 L1495.3 1197.4 L1495.5 1158.5 L1495.4 1119.7 L1495.8 1079.1 L1496.1 1045.8 L1496.4 1000.2 L1495.9 954.0 L1496.1 908.5 L1496.9 875.9 L1497.6 850.0Z"/>
<path d="M4.0 1451.3 L56.9 1451.2 L90.1 1451.9 L126.0 1452.2 L162.6 1451.3 L218.6 1451.8 L261.4 1451.4 L297.0 1451.7 L334.7 1451.5 L367.5 1451.2 L393.0 1451.2 L420.3 1451.3 L471.0 1452.3 L504.1 1451.8 L558.1 1451.4 L590.0 1452.4 L622.5 1452.5 L662.9 1451.8 L693.0 1451.4 L728.9 1451.5 L783.5 1451.4 L835.8 1451.7 L885.8 1451.4 L930.0 1451.9 L983.2 1452.3 L1037.3 1453.2 L1078.9 1453.9 L1125.9 1454.1 L1151.5 1453.8 L1198.9 1454.2 L1237.4 1454.6 L1285.4 1454.8 L1330.1 1455.1 L1363.2 1455.0 L1388.8 1455.4 L1442.4 1456.8 L1470.5 1455.9 L1486.0 1456.5 L1486.0 1457.5 L1470.5 1458.0 L1442.4 1457.2 L1388.8 1458.3 L1363.2 1457.4 L1330.1 1458.4 L1285.4 1458.5 L1237.4 1459.2 L1198.9 1459.3 L1151.5 1459.7 L1125.9 1460.2 L1078.9 1460.1 L1037.3 1460.2 L983.2 1460.0 L930.0 1460.3 L885.8 1460.7 L835.8 1461.9 L783.5 1461.9 L728.9 1462.0 L693.0 1462.3 L662.9 1461.6 L622.5 1461.2 L590.0 1462.2 L558.1 1462.1 L504.1 1462.9 L471.0 1462.7 L420.3 1462.0 L393.0 1462.0 L367.5 1463.3 L334.7 1463.4 L297.0 1463.7 L261.4 1463.1 L218.6 1463.1 L162.6 1463.1 L126.0 1463.3 L90.1 1463.3 L56.9 1464.3 L4.0 1464.2Z"/>
</g>
</svg></body></html>
